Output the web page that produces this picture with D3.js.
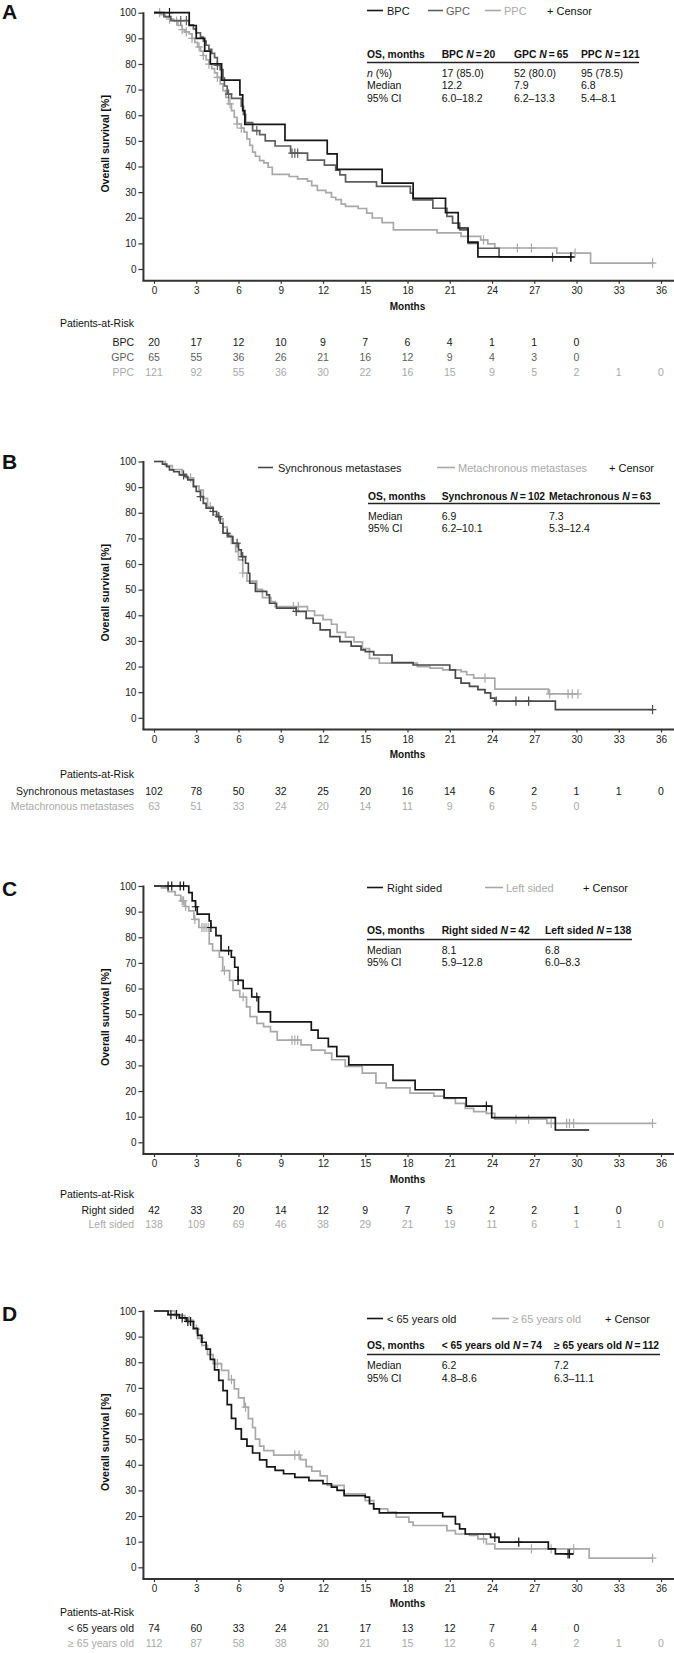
<!DOCTYPE html>
<html><head><meta charset="utf-8">
<script src="https://cdn.jsdelivr.net/npm/d3@7"></script>
<style>
body{margin:0;background:#fff;}
svg{display:block;font-family:"Liberation Sans",Arial,Helvetica,sans-serif;}
</style></head><body>
<svg id="chart" width="674" height="1653"></svg>
<script>
// ---------- shared ticks ----------
const monthTicks = [0,3,6,9,12,15,18,21,24,27,30,33,36];
const survTicks = [0,10,20,30,40,50,60,70,80,90,100];

// ---------- Panel A ----------
const aBpcTime = [0,2.5,3.0,3.6,4.0,4.8,6.1,6.3,6.45,9.3,12.3,13.0,16.2,18.4,20.7,21.6,22.3,23.0];
const aBpcSurv = [100,95,90,85,80,73.7,67.9,61.8,56.4,50.2,44.9,38.9,33.5,27.6,22.0,16.0,10.5,4.7];
const aBpcEnd = 29.7;
const aBpcCensor = [1.1,29.6];
const aGpcTime = [0,0.7,1.2,2.5,2.8,3.0,3.3,3.5,3.7,3.9,4.1,4.3,4.5,4.7,4.9,5.0,5.2,5.5,6.2,6.35,6.5,7.0,7.5,7.9,8.6,9.7,10.9,12.1,12.9,13.2,13.6,15.8,18.2,18.4,19.8,20.8,21.2,21.7,22.3,23.0,24.5];
const aGpcSurv = [100,98.5,96.9,95.3,93.7,92.1,90.5,88.9,87.3,85.7,84.1,82.5,79.4,77.8,74.6,71.4,68.2,66.6,63.5,60.3,57.1,54.0,52.4,50.0,48.0,45.2,42.5,40.5,38.6,36.7,34.0,32.2,29.6,27.0,23.7,20.5,17.9,15.3,10.0,8.1,4.6];
const aGpcEnd = 29.7;
const aGpcCensor = [1.9,2.3,4.5,5.3,7.3,9.8,10.0,10.2,28.3,29.6];
const aPpcTime = [0,0.5,0.8,1.1,1.4,1.7,2.0,2.2,2.5,2.7,2.9,3.1,3.3,3.5,3.7,3.9,4.1,4.3,4.5,4.7,4.9,5.1,5.3,5.5,5.7,5.9,6.2,6.4,6.6,6.8,7.0,7.2,7.5,7.8,8.1,8.4,9.6,10.2,10.9,11.2,11.6,12.2,12.6,12.9,13.3,13.6,14.5,15.1,15.5,16.2,17.0,20.1,21.8,23.2,23.7,24.2,28.6,31.0];
const aPpcSurv = [100,99.2,98.3,97.5,96.7,95.0,93.4,92.5,91.7,90.0,88.4,86.7,85.0,83.3,81.6,79.9,78.2,76.5,74.8,72.2,69.6,67.0,64.4,61.8,59.2,56.6,55.0,53.4,50.8,48.2,45.6,44.0,42.3,41.4,39.7,36.9,36.1,35.2,34.3,32.5,30.7,29.8,28.0,27.1,25.3,24.4,23.6,21.8,19.9,18.1,15.3,14.1,12.7,11.4,9.8,8.2,6.2,2.3];
const aPpcEnd = 35.5;
const aPpcCensor = [0.4,1.1,1.6,2.0,2.3,2.7,3.2,3.5,3.9,4.5,5.4,5.9,6.2,23.4,25.8,26.8,29.9,35.4];
const aRiskBpc = [20,17,12,10,9,7,6,4,1,1,0];
const aRiskGpc = [65,55,36,26,21,16,12,9,4,3,0];
const aRiskPpc = [121,92,55,36,30,22,16,15,9,5,2,1,0];
const aTableGroups = ["BPC","GPC","PPC"];
const aTableN = [20,65,121];
const aTableRows = [["n (%)","17 (85.0)","52 (80.0)","95 (78.5)"],["Median","12.2","7.9","6.8"],["95% CI","6.0–18.2","6.2–13.3","5.4–8.1"]];

// ---------- Panel B ----------
const bSyncTime = [0,0.6,0.9,1.1,1.4,1.8,2.2,2.4,2.8,3.0,3.3,3.5,3.7,4.2,4.45,4.7,4.9,5.3,5.6,6.0,6.2,6.5,6.7,6.8,7.2,8.0,8.2,8.7,10.1,10.8,11.3,11.8,12.5,13.2,14.0,14.7,15.0,15.6,16.9,18.4,21.0,21.4,21.8,22.4,23.0,23.5,23.9,24.2,28.5];
const bSyncSurv = [100,99,98,96.7,96,94.8,94.1,92.8,90.2,88.3,86.3,83.7,81.8,80.5,78.5,75.9,72,70.7,68.1,65.5,62.9,60.3,56.4,52.5,49.3,48,44.7,42.8,41.5,38.8,36.9,34.3,31.7,29.7,28.0,26.5,25.8,24.5,21.5,20.6,18.7,15.5,13.5,12.3,11.0,9.7,7.7,6.5,3.2];
const bSyncEnd = 35.4;
const bSyncCensor = [2.1,3.3,4.2,4.6,5.2,5.9,6.3,10.1,24.3,25.7,26.6,35.4];
const bMetaTime = [0,0.8,1.3,2.0,2.3,2.8,3.2,3.5,3.8,4.2,4.6,4.9,5.2,5.5,5.8,6.0,6.3,6.6,7.3,7.7,8.3,8.6,10.9,11.4,12.0,12.6,13.0,13.6,14.2,14.8,15.3,16.0,18.7,19.6,20.5,21.8,22.2,22.7,24.2,28.0];
const bMetaSurv = [100,98.4,96.8,95.2,93.6,90.4,88.8,85.6,82.4,79.2,77.6,74.4,71.2,68.0,64.8,61.6,56.5,53.3,50.1,46.9,45.3,43.4,41.7,40.0,38.3,36.5,33.3,31.5,29.6,27.0,23.2,21.3,20.0,19.4,18.7,18.0,16.8,15.5,11.2,9.3];
const bMetaEnd = 30.1;
const bMetaCensor = [2.6,4.0,6.3,9.9,10.25,23.5,28.1,29.4,29.7,30.1];
const bRiskSync = [102,78,50,32,25,20,16,14,6,2,1,1,0];
const bRiskMeta = [63,51,33,24,20,14,11,9,6,5,0];
const bTableGroups = ["Synchronous","Metachronous"];
const bTableN = [102,63];
const bTableRows = [["Median","6.9","7.3"],["95% CI","6.2–10.1","5.3–12.4"]];

// ---------- Panel C ----------
const cRightTime = [0,2.47,2.71,2.95,3.07,3.92,4.04,4.4,4.76,5.49,5.73,5.97,6.33,6.94,7.42,8.27,11.17,11.65,12.38,12.98,13.83,16.97,18.54,20.6,22.17,23.98,28.5];
const cRightSurv = [100,97.4,94.2,91.9,89,86.4,83.8,80.6,74.8,72.2,68.3,63.2,60,56.7,50.9,47,43.8,40.6,37.3,33.5,30.2,24.2,20.5,17.3,14.1,9.6,4.8];
const cRightEnd = 30.9;
const cRightCensor = [1.0,1.26,1.86,2.1,2.95,4.04,5.3,5.97,7.3,23.6];
const cLeftTime = [0,0.53,1.0,1.5,1.9,2.2,2.47,2.83,3.19,3.92,4.16,4.64,4.88,5.37,5.61,6.09,6.57,6.82,7.3,7.78,8.27,8.75,10.44,11.17,12.14,12.62,13.58,14.79,15.76,16.48,18.18,19.87,20.6,21.4,22.1,22.7,23.6,24.2,27.9];
const cLeftSurv = [100,99.3,97.8,96.4,94.2,92.0,90.3,87.0,83.8,77.4,74.8,72.2,67.0,63.2,59.3,56.7,52.8,49.0,46.4,45.1,43.2,39.9,38.0,36.0,34.8,32.2,29.6,27.0,23.1,21.2,19.2,18.0,17.1,15.2,13.2,12.0,11.3,9.0,7.4];
const cLeftEnd = 35.4;
const cLeftCensor = [2.0,2.1,2.25,2.9,3.4,3.55,3.7,3.85,5.0,6.33,9.8,10.0,10.2,25.7,26.6,28.2,29.3,29.5,29.8,35.4];
const cRiskRight = [42,33,20,14,12,9,7,5,2,2,1,0];
const cRiskLeft = [138,109,69,46,38,29,21,19,11,6,1,1,0];
const cTableGroups = ["Right sided","Left sided"];
const cTableN = [42,138];
const cTableRows = [["Median","8.1","6.8"],["95% CI","5.9–12.8","6.0–8.3"]];

// ---------- Panel D ----------
const dYoungTime = [0,1.0,1.8,2.3,2.8,3.1,3.4,3.7,4.0,4.3,4.6,4.9,5.2,5.5,5.8,6.2,6.6,7.0,7.5,8.0,8.6,9.2,10.0,11.0,12.0,12.6,13.0,13.5,15.0,15.3,15.6,16.0,20.5,21.4,21.7,22.1,23.9,24.5,28.0,28.5];
const dYoungSurv = [100,98.6,97.3,95.9,93.2,90.5,87.8,85.1,81.1,77.0,72.9,68.9,63.5,58.1,54.0,50.0,47.3,44.6,41.9,39.2,37.8,36.5,35.1,33.8,32.6,31.3,30.0,28.0,27.4,24.8,22.8,21.2,19.8,16.9,15.0,13.0,11.7,9.8,7.2,5.2];
const dYoungEnd = 29.8;
const dYoungCensor = [1.2,1.6,2.0,2.4,2.6,24.2,25.9,29.4,29.5];
const dOldTime = [0,1.5,2.2,2.8,3.1,3.4,3.8,4.2,4.8,5.3,5.7,6.0,6.4,6.7,7.0,7.2,7.5,7.8,8.5,10.4,10.8,11.2,11.8,12.3,13.5,15.0,15.6,16.6,17.2,18.1,18.4,20.8,21.4,22.4,23.0,23.6,24.2,30.9];
const dOldSurv = [100,98.2,96.4,92.9,89.3,86.6,83.0,79.5,76.8,73.2,69.6,66.1,62.5,58.0,54.5,50.0,47.3,45.5,43.8,42.0,39.3,37.5,35.7,32.0,28.7,26.0,22.8,21.5,19.6,17.6,16.3,14.3,13.0,12.4,11.1,9.1,7.2,3.6];
const dOldEnd = 35.4;
const dOldCensor = [2.5,3.0,3.3,4.5,5.5,6.5,10.0,10.3,23.4,26.8,28.2,29.8,35.4];
const dRiskYoung = [74,60,33,24,21,17,13,12,7,4,0];
const dRiskOld = [112,87,58,38,30,21,15,12,6,4,2,1,0];
const dTableGroups = ["< 65 years old","≥ 65 years old"];
const dTableN = [74,112];
const dTableRows = [["Median","6.2","7.2"],["95% CI","4.8–8.6","6.3–11.1"]];

// ---------- drawing ----------
const BLACK = "#161616", DARK = "#5e5e5e", LIGHT = "#a9a9a9", AXIS = "#333";
const svg = d3.select("#chart");
const x = d3.scaleLinear().domain([0,36]).range([154,661]);
const PLOT_H = 256.3;

function survAt(times, surv, t){
  let s = surv[0];
  for (let i=0;i<times.length;i++){ if (times[i] <= t) s = surv[i]; }
  return s;
}

function drawPanel(p){
  const y = d3.scaleLinear().domain([0,100]).range([p.top+PLOT_H, p.top]);
  const g = svg.append("g");
  g.append("text").attr("x",2).attr("y",p.letterY).attr("font-size",21).attr("font-weight","bold").attr("fill","#111").text(p.letter);
  const ya = g.append("g").attr("transform",`translate(${x(-0.75)},0)`)
    .call(d3.axisLeft(y).tickValues(survTicks).tickSize(5).tickPadding(2));
  ya.select(".domain").remove();
  ya.selectAll(".tick line").attr("stroke",AXIS).attr("stroke-width",1.2);
  ya.selectAll(".tick text").attr("font-size",10).attr("fill","#222").attr("font-family","Liberation Sans, Arial, sans-serif");
  const xa = g.append("g").attr("transform",`translate(0,${y(-4.6)})`)
    .call(d3.axisBottom(x).tickValues(monthTicks).tickSize(3).tickPadding(3));
  xa.select(".domain").remove();
  xa.selectAll(".tick line").attr("stroke",AXIS).attr("stroke-width",1.2);
  xa.selectAll(".tick text").attr("font-size",10).attr("fill","#222").attr("font-family","Liberation Sans, Arial, sans-serif");
  g.append("line").attr("x1",x(-0.75)).attr("x2",x(-0.75)).attr("y1",y(100)-0.5).attr("y2",y(-4.6)).attr("stroke",AXIS).attr("stroke-width",2);
  g.append("line").attr("x1",x(-0.75)-1).attr("x2",674).attr("y1",y(-4.6)).attr("y2",y(-4.6)).attr("stroke",AXIS).attr("stroke-width",2);
  g.append("text").attr("transform",`translate(${105},${y(50)+3}) rotate(-90)`).attr("text-anchor","middle")
    .attr("dominant-baseline","central").attr("font-size",10.5).attr("font-weight","bold").attr("fill","#111").text("Overall survival [%]");
  g.append("text").attr("x",x(18)).attr("y",p.monthsY).attr("text-anchor","middle").attr("dominant-baseline","central")
    .attr("font-size",10).attr("font-weight","bold").attr("fill","#111").text("Months");
  const line = d3.line().curve(d3.curveStepAfter).x(d=>x(d[0])).y(d=>y(d[1]));
  p.series.slice().reverse().forEach(s=>{
    const pts = s.time.map((t,i)=>[t,s.surv[i]]);
    pts.push([s.end, s.surv[s.surv.length-1]]);
    g.append("path").attr("d",line(pts)).attr("fill","none").attr("stroke",s.color).attr("stroke-width",1.7);
    const cg = g.append("g").attr("stroke",s.color).attr("stroke-width",1.2);
    s.censor.forEach(t=>{
      const cx = x(t), cy = y(survAt(s.time,s.surv,t));
      cg.append("path").attr("d",`M${cx-3.8},${cy}H${cx+3.8}M${cx},${cy-4.6}V${cy+4.6}`);
    });
  });
  p.legend.items.forEach((it,i)=>{
    g.append("line").attr("x1",it.x1).attr("x2",it.x2).attr("y1",p.legend.y).attr("y2",p.legend.y).attr("stroke",p.series[i].color).attr("stroke-width",1.6);
    g.append("text").attr("x",it.tx).attr("y",p.legend.y).attr("dominant-baseline","central").attr("font-size",11)
      .attr("fill",p.series[i].textColor).text(p.series[i].name);
  });
  g.append("text").attr("x",p.legend.censorX).attr("y",p.legend.y).attr("dominant-baseline","central").attr("font-size",11).attr("fill","#111").text("+ Censor");
  const t = p.table;
  const hdr = g.append("g").attr("font-size",10.3).attr("font-weight","bold").attr("fill","#111");
  hdr.append("text").attr("x",t.colX[0]).attr("y",t.headY).attr("dominant-baseline","central").text("OS, months");
  t.groups.forEach((gr,i)=>{
    const tx = hdr.append("text").attr("x",t.colX[i+1]).attr("y",t.headY).attr("dominant-baseline","central");
    tx.append("tspan").text(gr+" ");
    tx.append("tspan").attr("font-style","italic").text("N");
    tx.append("tspan").text("\u2009=\u2009"+t.n[i]);
  });
  g.append("line").attr("x1",t.colX[0]).attr("x2",t.lineX2).attr("y1",t.lineY).attr("y2",t.lineY).attr("stroke","#222").attr("stroke-width",1.4);
  t.rows.forEach((row,r)=>{
    row.forEach((cell,c)=>{
      const tx = g.append("text").attr("x",t.colX[c]).attr("y",t.rowY[r]).attr("dominant-baseline","central").attr("font-size",10.5).attr("fill","#111");
      if (c===0 && cell.startsWith("n (")){ tx.append("tspan").attr("font-style","italic").text("n"); tx.append("tspan").text(cell.slice(1)); }
      else tx.text(cell);
    });
  });
  g.append("text").attr("x",134).attr("y",p.risk.parY).attr("text-anchor","end").attr("dominant-baseline","central").attr("font-size",10.5).attr("fill","#111").text("Patients-at-Risk");
  p.series.forEach((s,i)=>{
    const ry = p.risk.rowY[i];
    g.append("text").attr("x",134).attr("y",ry).attr("text-anchor","end").attr("dominant-baseline","central").attr("font-size",10.5).attr("fill",s.riskColor).text(s.riskLabel);
    s.risk.forEach((v,k)=>{
      g.append("text").attr("x",x(monthTicks[k])).attr("y",ry).attr("text-anchor","middle").attr("dominant-baseline","central").attr("font-size",10.5).attr("fill",s.riskColor).text(v);
    });
  });
}

const panels = [
  { letter:"A", top:12.7, letterY:18.5, monthsY:306,
    series:[
      {name:"BPC",riskLabel:"BPC",time:aBpcTime,surv:aBpcSurv,end:aBpcEnd,censor:aBpcCensor,risk:aRiskBpc,color:BLACK,textColor:BLACK,riskColor:BLACK},
      {name:"GPC",riskLabel:"GPC",time:aGpcTime,surv:aGpcSurv,end:aGpcEnd,censor:aGpcCensor,risk:aRiskGpc,color:DARK,textColor:DARK,riskColor:DARK},
      {name:"PPC",riskLabel:"PPC",time:aPpcTime,surv:aPpcSurv,end:aPpcEnd,censor:aPpcCensor,risk:aRiskPpc,color:LIGHT,textColor:LIGHT,riskColor:LIGHT}],
    legend:{y:10.5,censorX:547,items:[{x1:367,x2:383,tx:387},{x1:428,x2:443,tx:446},{x1:485,x2:501,tx:504}]},
    table:{groups:aTableGroups,n:aTableN,rows:aTableRows,colX:[367,441.7,514,581],headY:54,lineY:62.5,lineX2:639,rowY:[73,85,97.5]},
    risk:{parY:322.8,rowY:[341.8,357.3,372.4]} },
  { letter:"B", top:461.5, letterY:469, monthsY:754,
    series:[
      {name:"Synchronous metastases",riskLabel:"Synchronous metastases",time:bSyncTime,surv:bSyncSurv,end:bSyncEnd,censor:bSyncCensor,risk:bRiskSync,color:"#4a4a4a",textColor:BLACK,riskColor:BLACK},
      {name:"Metachronous metastases",riskLabel:"Metachronous metastases",time:bMetaTime,surv:bMetaSurv,end:bMetaEnd,censor:bMetaCensor,risk:bRiskMeta,color:LIGHT,textColor:LIGHT,riskColor:LIGHT}],
    legend:{y:467.5,censorX:609,items:[{x1:258,x2:273,tx:278},{x1:437,x2:455,tx:458}]},
    table:{groups:bTableGroups,n:bTableN,rows:bTableRows,colX:[368,441.7,549],headY:496,lineY:503.5,lineX2:660,rowY:[515.5,528]},
    risk:{parY:774,rowY:[791,806]} },
  { letter:"C", top:886, letterY:895.5, monthsY:1179,
    series:[
      {name:"Right sided",riskLabel:"Right sided",time:cRightTime,surv:cRightSurv,end:cRightEnd,censor:cRightCensor,risk:cRiskRight,color:BLACK,textColor:BLACK,riskColor:BLACK},
      {name:"Left sided",riskLabel:"Left sided",time:cLeftTime,surv:cLeftSurv,end:cLeftEnd,censor:cLeftCensor,risk:cRiskLeft,color:LIGHT,textColor:LIGHT,riskColor:LIGHT}],
    legend:{y:887.5,censorX:583,items:[{x1:367,x2:383,tx:387},{x1:485,x2:503,tx:506}]},
    table:{groups:cTableGroups,n:cTableN,rows:cTableRows,colX:[367,441.7,545],headY:930,lineY:939.5,lineX2:632,rowY:[949.5,961.5]},
    risk:{parY:1194,rowY:[1209.5,1224]} },
  { letter:"D", top:1311, letterY:1320.5, monthsY:1603,
    series:[
      {name:"< 65 years old",riskLabel:"< 65 years old",time:dYoungTime,surv:dYoungSurv,end:dYoungEnd,censor:dYoungCensor,risk:dRiskYoung,color:BLACK,textColor:BLACK,riskColor:BLACK},
      {name:"≥ 65 years old",riskLabel:"≥ 65 years old",time:dOldTime,surv:dOldSurv,end:dOldEnd,censor:dOldCensor,risk:dRiskOld,color:LIGHT,textColor:LIGHT,riskColor:LIGHT}],
    legend:{y:1318.5,censorX:605,items:[{x1:367,x2:383,tx:387},{x1:492,x2:509,tx:512}]},
    table:{groups:dTableGroups,n:dTableN,rows:dTableRows,colX:[367,441.7,554],headY:1345,lineY:1354.5,lineX2:660,rowY:[1365,1377.5]},
    risk:{parY:1611.5,rowY:[1628,1642.5]} }
];
panels.forEach(drawPanel);
</script>
</body></html>
